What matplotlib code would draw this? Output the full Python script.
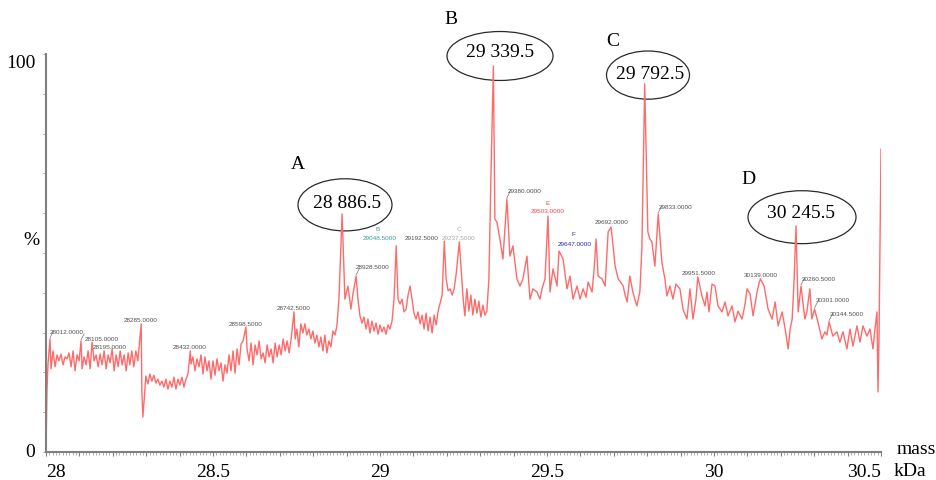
import matplotlib
matplotlib.use("Agg")
import matplotlib.pyplot as plt
from matplotlib.patches import Ellipse
import numpy as np

# spectrum trace, mass in Da, relative intensity in %
mass_da = [
    28000, 28003, 28006, 28012, 28015, 28021, 28027, 28033, 28039, 28045,
    28051, 28057, 28063, 28069, 28075, 28081, 28087, 28093, 28099, 28105,
    28108, 28114, 28120, 28126, 28132, 28138, 28144, 28150, 28156, 28162,
    28168, 28174, 28180, 28186, 28192, 28198, 28204, 28210, 28216, 28222,
    28228, 28234, 28240, 28246, 28251, 28257, 28263, 28269, 28275, 28285,
    28287, 28290, 28293, 28299, 28305, 28311, 28317, 28323, 28329, 28335,
    28341, 28347, 28353, 28359, 28365, 28371, 28377, 28383, 28389, 28395,
    28401, 28407, 28413, 28419, 28425, 28432, 28434, 28440, 28446, 28452,
    28458, 28464, 28470, 28476, 28482, 28488, 28494, 28500, 28506, 28512,
    28518, 28524, 28530, 28536, 28542, 28548, 28554, 28560, 28566, 28572,
    28578, 28584, 28590, 28598.5, 28602, 28608, 28614, 28620, 28626, 28632,
    28638, 28644, 28650, 28656, 28662, 28668, 28674, 28680, 28686, 28692,
    28698, 28704, 28710, 28716, 28722, 28728, 28734, 28742.5, 28746, 28751,
    28757, 28763, 28769, 28775, 28781, 28787, 28793, 28799, 28805, 28811,
    28817, 28823, 28829, 28835, 28841, 28847, 28853, 28859, 28865, 28871,
    28877, 28886.5, 28892, 28895, 28904, 28913, 28919, 28928.5, 28934, 28940,
    28946, 28952, 28958, 28964, 28970, 28976, 28982, 28988, 28994, 29000,
    29006, 29012, 29018, 29024, 29030, 29036, 29042, 29048.5, 29054, 29060,
    29066, 29072, 29078, 29084, 29090, 29096, 29102, 29108, 29114, 29120,
    29126, 29132, 29138, 29144, 29150, 29156, 29162, 29168, 29174, 29180,
    29186, 29192.5, 29198, 29204, 29210, 29216, 29222, 29228, 29237.5, 29243,
    29249, 29254, 29260, 29266, 29272, 29278, 29284, 29290, 29296, 29302,
    29308, 29314, 29320, 29326, 29332, 29339.5, 29344, 29350, 29359, 29368,
    29380, 29389, 29398, 29410, 29419, 29428, 29440, 29449, 29458, 29470,
    29479, 29485, 29494, 29503, 29509, 29518, 29530, 29536, 29548, 29560,
    29569, 29578, 29590, 29599, 29608, 29617, 29623, 29635, 29641, 29647,
    29653, 29665, 29674, 29683, 29692, 29704, 29713, 29722, 29728, 29734,
    29740, 29748, 29757, 29763, 29769, 29778, 29784, 29792.5, 29802, 29808,
    29814, 29823, 29833, 29844, 29853, 29859, 29868, 29877, 29886, 29898,
    29907, 29919, 29928, 29937, 29946, 29951.5, 29964, 29973, 29979, 29985,
    29994, 30003, 30012, 30024, 30033, 30042, 30054, 30063, 30072, 30084,
    30093, 30099, 30108, 30117, 30129, 30135, 30139, 30150, 30162, 30174,
    30183, 30192, 30204, 30213, 30222, 30228, 30234, 30240, 30245.5, 30252,
    30260.5, 30272, 30278, 30287, 30293, 30301, 30311, 30323, 30332, 30338,
    30344.5, 30356, 30368, 30377, 30386, 30398, 30407, 30416, 30428, 30437,
    30446, 30458, 30467, 30476, 30482, 30488, 30491, 30494, 30497, 30500,
]
intensity = [
    0, 15.8, 22.1, 28.4, 20.9, 25.4, 21.4, 24.4, 22.9, 24.6,
    21.9, 23.9, 23.4, 24.9, 21.4, 25.4, 20.4, 24.4, 22.9, 27.9,
    20.9, 23.9, 21.9, 25.4, 20.9, 27.6, 22.9, 24.4, 21.4, 24.6,
    21.9, 25.4, 20.9, 24.4, 22.4, 25.9, 20.4, 24.4, 21.4, 25.4,
    21.9, 24.4, 20.4, 24.9, 21.9, 25.4, 21.4, 25.4, 22.9, 32.2,
    15.3, 8.8, 12.1, 19.1, 17.1, 19.6, 17.8, 19.3, 17.3, 18.3,
    16.8, 17.8, 16.3, 18.3, 15.8, 17.8, 16.3, 18.8, 15.8, 18.3,
    16.8, 18.8, 16.3, 18.3, 19.6, 25.4, 22.1, 23.9, 20.4, 23.4,
    21.4, 24.4, 19.6, 23.9, 20.4, 22.9, 18.3, 22.9, 19.3, 23.4,
    20.4, 22.4, 17.8, 21.9, 19.8, 24.4, 20.4, 25.4, 19.8, 25.9,
    21.9, 27.1, 27.9, 31.4, 25.9, 22.9, 27.4, 21.9, 26.9, 24.4,
    27.9, 23.4, 24.9, 22.4, 26.9, 23.9, 25.9, 22.4, 27.4, 23.9,
    26.9, 24.4, 28.4, 25.4, 27.9, 24.9, 28.4, 35.2, 28.4, 30.9,
    26.4, 32.2, 29.9, 32.2, 29.4, 30.9, 28.4, 30.4, 27.4, 29.4,
    26.4, 28.9, 25.4, 29.4, 24.9, 27.9, 26.4, 30.4, 29.4, 31.7,
    38.4, 59.8, 46.0, 38.4, 41.7, 35.9, 39.7, 44.2, 38.4, 34.2,
    32.4, 33.9, 30.9, 33.4, 29.9, 32.9, 30.4, 32.4, 29.6, 31.9,
    30.2, 31.4, 29.6, 31.9, 30.9, 32.9, 38.4, 51.8, 38.4, 37.2,
    38.4, 35.2, 35.9, 39.4, 41.7, 38.4, 34.7, 33.4, 35.2, 32.2,
    34.4, 30.9, 34.9, 30.4, 33.9, 29.9, 34.4, 31.9, 35.4, 37.4,
    39.4, 53.0, 43.5, 40.5, 41.0, 39.4, 41.0, 44.7, 52.8, 46.0,
    38.4, 34.2, 41.0, 35.4, 39.4, 34.4, 38.4, 34.9, 37.9, 33.9,
    36.9, 34.4, 35.4, 43.5, 68.6, 97.0, 58.5, 57.8, 53.5, 48.5,
    63.6, 49.2, 51.8, 43.5, 41.7, 43.5, 49.2, 38.4, 41.0, 40.2,
    38.4, 41.0, 43.5, 59.3, 40.2, 46.0, 41.7, 50.5, 48.5, 41.0,
    44.2, 38.4, 41.7, 38.4, 41.0, 38.9, 42.7, 40.2, 46.0, 53.5,
    44.2, 43.5, 41.7, 55.3, 56.5, 46.7, 43.5, 42.5, 41.7, 39.4,
    37.7, 44.2, 40.2, 38.4, 36.7, 40.2, 51.0, 92.5, 55.3, 53.5,
    52.8, 46.7, 59.8, 47.7, 43.5, 39.2, 41.7, 38.4, 42.2, 41.0,
    35.9, 33.4, 41.0, 33.4, 38.4, 44.0, 39.2, 36.7, 40.2, 35.2,
    42.2, 41.7, 36.7, 35.2, 37.7, 34.2, 36.7, 32.7, 35.4, 33.4,
    37.2, 41.0, 39.7, 34.2, 40.2, 42.5, 43.5, 41.7, 35.9, 33.4,
    37.7, 31.7, 35.2, 30.9, 25.9, 30.9, 33.4, 43.5, 56.8, 35.2,
    41.7, 33.4, 35.2, 41.0, 33.4, 35.9, 32.7, 28.4, 30.2, 29.4,
    32.7, 29.1, 30.2, 27.6, 30.2, 25.9, 30.9, 26.6, 31.7, 27.6,
    31.7, 29.1, 30.9, 25.9, 30.9, 35.2, 15.1, 28.4, 51.8, 76.1,
]

# small peak labels: text, x (kDa), y (%), colour
peak_labels = [
    ("28012.0000", 28.0614, 30.4, "#505050"),
    ("28105.0000", 28.1662, 28.6, "#505050"),
    ("28195.0000", 28.1916, 26.4, "#505050"),
    ("28285.0000", 28.2844, 33.4, "#505050"),
    ("28432.0000", 28.4296, 26.4, "#505050"),
    ("28598.5000", 28.5973, 32.4, "#505050"),
    ("28742.5000", 28.7410, 36.2, "#505050"),
    ("28928.5000", 28.9790, 46.7, "#505050"),
    ("29048.5000", 28.9985, 54.0, "#3a9a9a"),
    ("B", 28.9940, 56.1, "#3a9a9a"),
    ("29192.5000", 29.1243, 54.0, "#505050"),
    ("29237.5000", 29.2365, 54.0, "#a8a8a8"),
    ("C", 29.2365, 56.1, "#a8a8a8"),
    ("29380.0000", 29.4326, 65.8, "#505050"),
    ("29503.0000", 29.5015, 60.6, "#ff4040"),
    ("E", 29.5030, 62.8, "#ff4040"),
    ("29647.0000", 29.5823, 52.3, "#2a2aa0"),
    ("F", 29.5778, 55.0, "#2a2aa0"),
    ("29692.0000", 29.6931, 57.8, "#505050"),
    ("29833.0000", 29.8847, 61.8, "#505050"),
    ("29951.5000", 29.9536, 45.0, "#505050"),
    ("30139.0000", 30.1392, 44.5, "#505050"),
    ("30260.5000", 30.3144, 43.7, "#505050"),
    ("30301.0000", 30.3548, 38.2, "#505050"),
    ("30344.5000", 30.3982, 34.7, "#505050"),
]
leader_peaks = [28012, 28105, 28928.5, 29380, 29833, 30260.5, 30301, 30344.5]

# circled main peaks
main_text = ["28 886.5", "29 339.5", "29 792.5", "30 245.5"]
main_letter = ["A", "B", "C", "D"]
oval_xy = [(28.8952, 62.1), (29.3593, 99.5), (29.8024, 94.7), (30.2635, 59.0)]
oval_wh = [(0.2814, 13.1), (0.3174, 12.3), (0.2485, 12.1), (0.3234, 13.3)]
text_xy = [(28.9012, 62.6), (29.3593, 100.6), (29.8084, 95.0), (30.2605, 60.1)]
letter_xy = [(28.7545, 72.4), (29.2126, 109.0), (29.6976, 103.5), (30.1018, 68.8)]

serif = "Liberation Serif"
fs = 14
fig = plt.figure(figsize=(9.37, 4.81), dpi=100)
ax = fig.add_axes([46 / 937, 28 / 481, 835 / 937, 398 / 481])

x = np.array(mass_da) / 1000.0
y = np.array(intensity)
ax.plot(x, y, color="#ff6a6a", lw=1.0)

for t, tx, ty, c in peak_labels:
    ax.text(tx, ty, t, fontsize=4.6, family="Liberation Sans", color=c,
            ha="center", va="center", clip_on=False)

for m in leader_peaks:
    i = np.interp(m, mass_da, intensity)
    ax.plot([m / 1000, m / 1000 + 0.009], [i + 0.3, i + 1.8], color="#707070", lw=0.5)

for k in range(4):
    e = Ellipse(oval_xy[k], oval_wh[k][0], oval_wh[k][1], fill=False,
                edgecolor="#2a2a2a", lw=0.9, clip_on=False)
    ax.add_patch(e)
    ax.text(text_xy[k][0], text_xy[k][1], main_text[k], fontsize=fs, family=serif,
            ha="center", va="center", clip_on=False)
    ax.text(letter_xy[k][0], letter_xy[k][1], main_letter[k], fontsize=fs, family=serif,
            ha="center", va="center", clip_on=False)

ax.set_xlim(28, 30.5)
ax.set_ylim(0, 100)
for s in ["top", "right"]:
    ax.spines[s].set_visible(False)
for s in ["left", "bottom"]:
    ax.spines[s].set_color("#808080")
    ax.spines[s].set_linewidth(1.5)

ax.set_xticks(np.arange(28, 30.51, 0.1), minor=False)
ax.set_xticks(np.arange(28, 30.501, 0.01), minor=True)
ax.set_xticklabels([])
ax.tick_params(axis="x", which="major", direction="out", length=3, width=0.8, color="#808080")
ax.tick_params(axis="x", which="minor", direction="out", length=1.8, width=0.5, color="#909090")
ax.set_yticks(np.arange(0, 101, 10))
ax.set_yticklabels([])
ax.tick_params(axis="y", which="major", direction="out", length=2, width=0.6, color="#909090")

xt = [28, 28.5, 29, 29.5, 30, 30.5]
xl = ["28", "28.5", "29", "29.5", "30", "30.5"]
for v, l in zip(xt, xl):
    ha = "center"
    if v == 28:
        ha = "left"
    if v == 30.5:
        ha = "right"
    ax.text(v, -5.0, l, fontsize=fs, family=serif, ha=ha, va="center", clip_on=False)

ax.text(-0.012, 1.0, "100", transform=ax.transAxes, fontsize=fs, family=serif,
        ha="right", va="top")
ax.text(-0.013, 0.0, "0", transform=ax.transAxes, fontsize=fs, family=serif,
        ha="right", va="center")
ax.text(-0.008, 0.535, "%", transform=ax.transAxes, fontsize=fs, family=serif,
        ha="right", va="center")
fig.text(916 / 937, 1 - 450 / 481, "mass", fontsize=fs, family=serif, ha="center", va="center")
fig.text(910 / 937, 1 - 472 / 481, "kDa", fontsize=fs, family=serif, ha="center", va="center")

fig.savefig("out.png", dpi=100)
